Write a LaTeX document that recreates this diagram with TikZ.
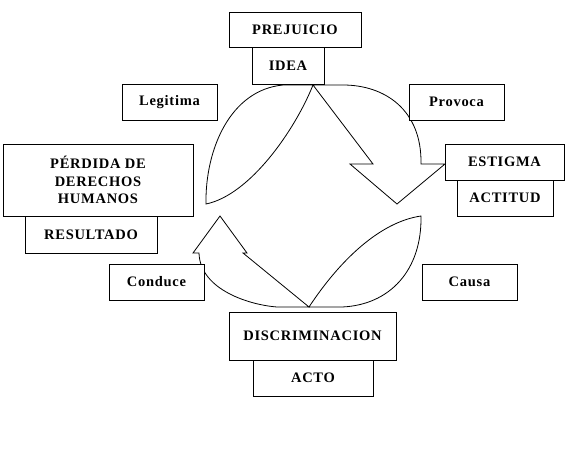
\documentclass[tikz,border=0pt]{standalone}
\usepackage{fontspec}
\setmainfont{Liberation Serif}[LetterSpace=5]
\usetikzlibrary{calc}

\begin{document}
\begin{tikzpicture}[x=1pt,y=-1pt,line width=0.8pt,
  caja/.style={draw,fill=white,inner sep=0pt,align=center,
    font=\fontsize{14.5}{17.5}\selectfont\bfseries},
  flecha/.style={draw,line join=miter}]
  \useasboundingbox (0,0) rectangle (568,471);
  \path[flecha] (283,85) .. controls (230,90) and (205,150) .. (206,204)
    .. controls (250,195) and (295,130) .. (313,85) -- cycle;
  \path[flecha] (313,85) -- (373,164) -- (350,164) -- (397,204) -- (445,164) -- (421,164)
    .. controls (422,110) and (385,85) .. (343,85) -- cycle;
  \path[flecha] (309,307) .. controls (340,260) and (380,222) .. (421,216)
    .. controls (422,270) and (390,305) .. (342,307) -- cycle;
  \path[flecha] (309,307) -- (243,253) -- (247,253) -- (220,216) -- (193,253) -- (199,253)
    .. controls (200,290) and (250,305) .. (277,307) -- cycle;
  \node[caja,minimum width=132pt,minimum height=35pt] (prejuicio) at (295,29.5) {PREJUICIO};
  \node[caja,minimum width=72pt,minimum height=37pt] (idea) at (288,65.5) {IDEA};
  \node[caja,minimum width=95pt,minimum height=36pt] (legitima) at (169.5,102) {Legitima};
  \node[caja,minimum width=95pt,minimum height=36pt] (provoca) at (456.5,102) {Provoca};
  \node[caja,minimum width=190pt,minimum height=72pt] (perdida) at (98,180) {PÉRDIDA DE\\DERECHOS\\HUMANOS};
  \node[caja,minimum width=132pt,minimum height=37pt] (resultado) at (91,234.5) {RESULTADO};
  \node[caja,minimum width=119pt,minimum height=36pt] (estigma) at (504.5,162) {ESTIGMA};
  \node[caja,minimum width=96pt,minimum height=36pt] (actitud) at (505,198) {ACTITUD};
  \node[caja,minimum width=95pt,minimum height=36pt] (conduce) at (156.5,282) {Conduce};
  \node[caja,minimum width=95pt,minimum height=36pt] (causa) at (469.5,282) {Causa};
  \node[caja,minimum width=167pt,minimum height=48pt] (discriminacion) at (312.5,336) {DISCRIMINACION};
  \node[caja,minimum width=120pt,minimum height=36pt] (acto) at (313,378) {ACTO};
\end{tikzpicture}
\end{document}
